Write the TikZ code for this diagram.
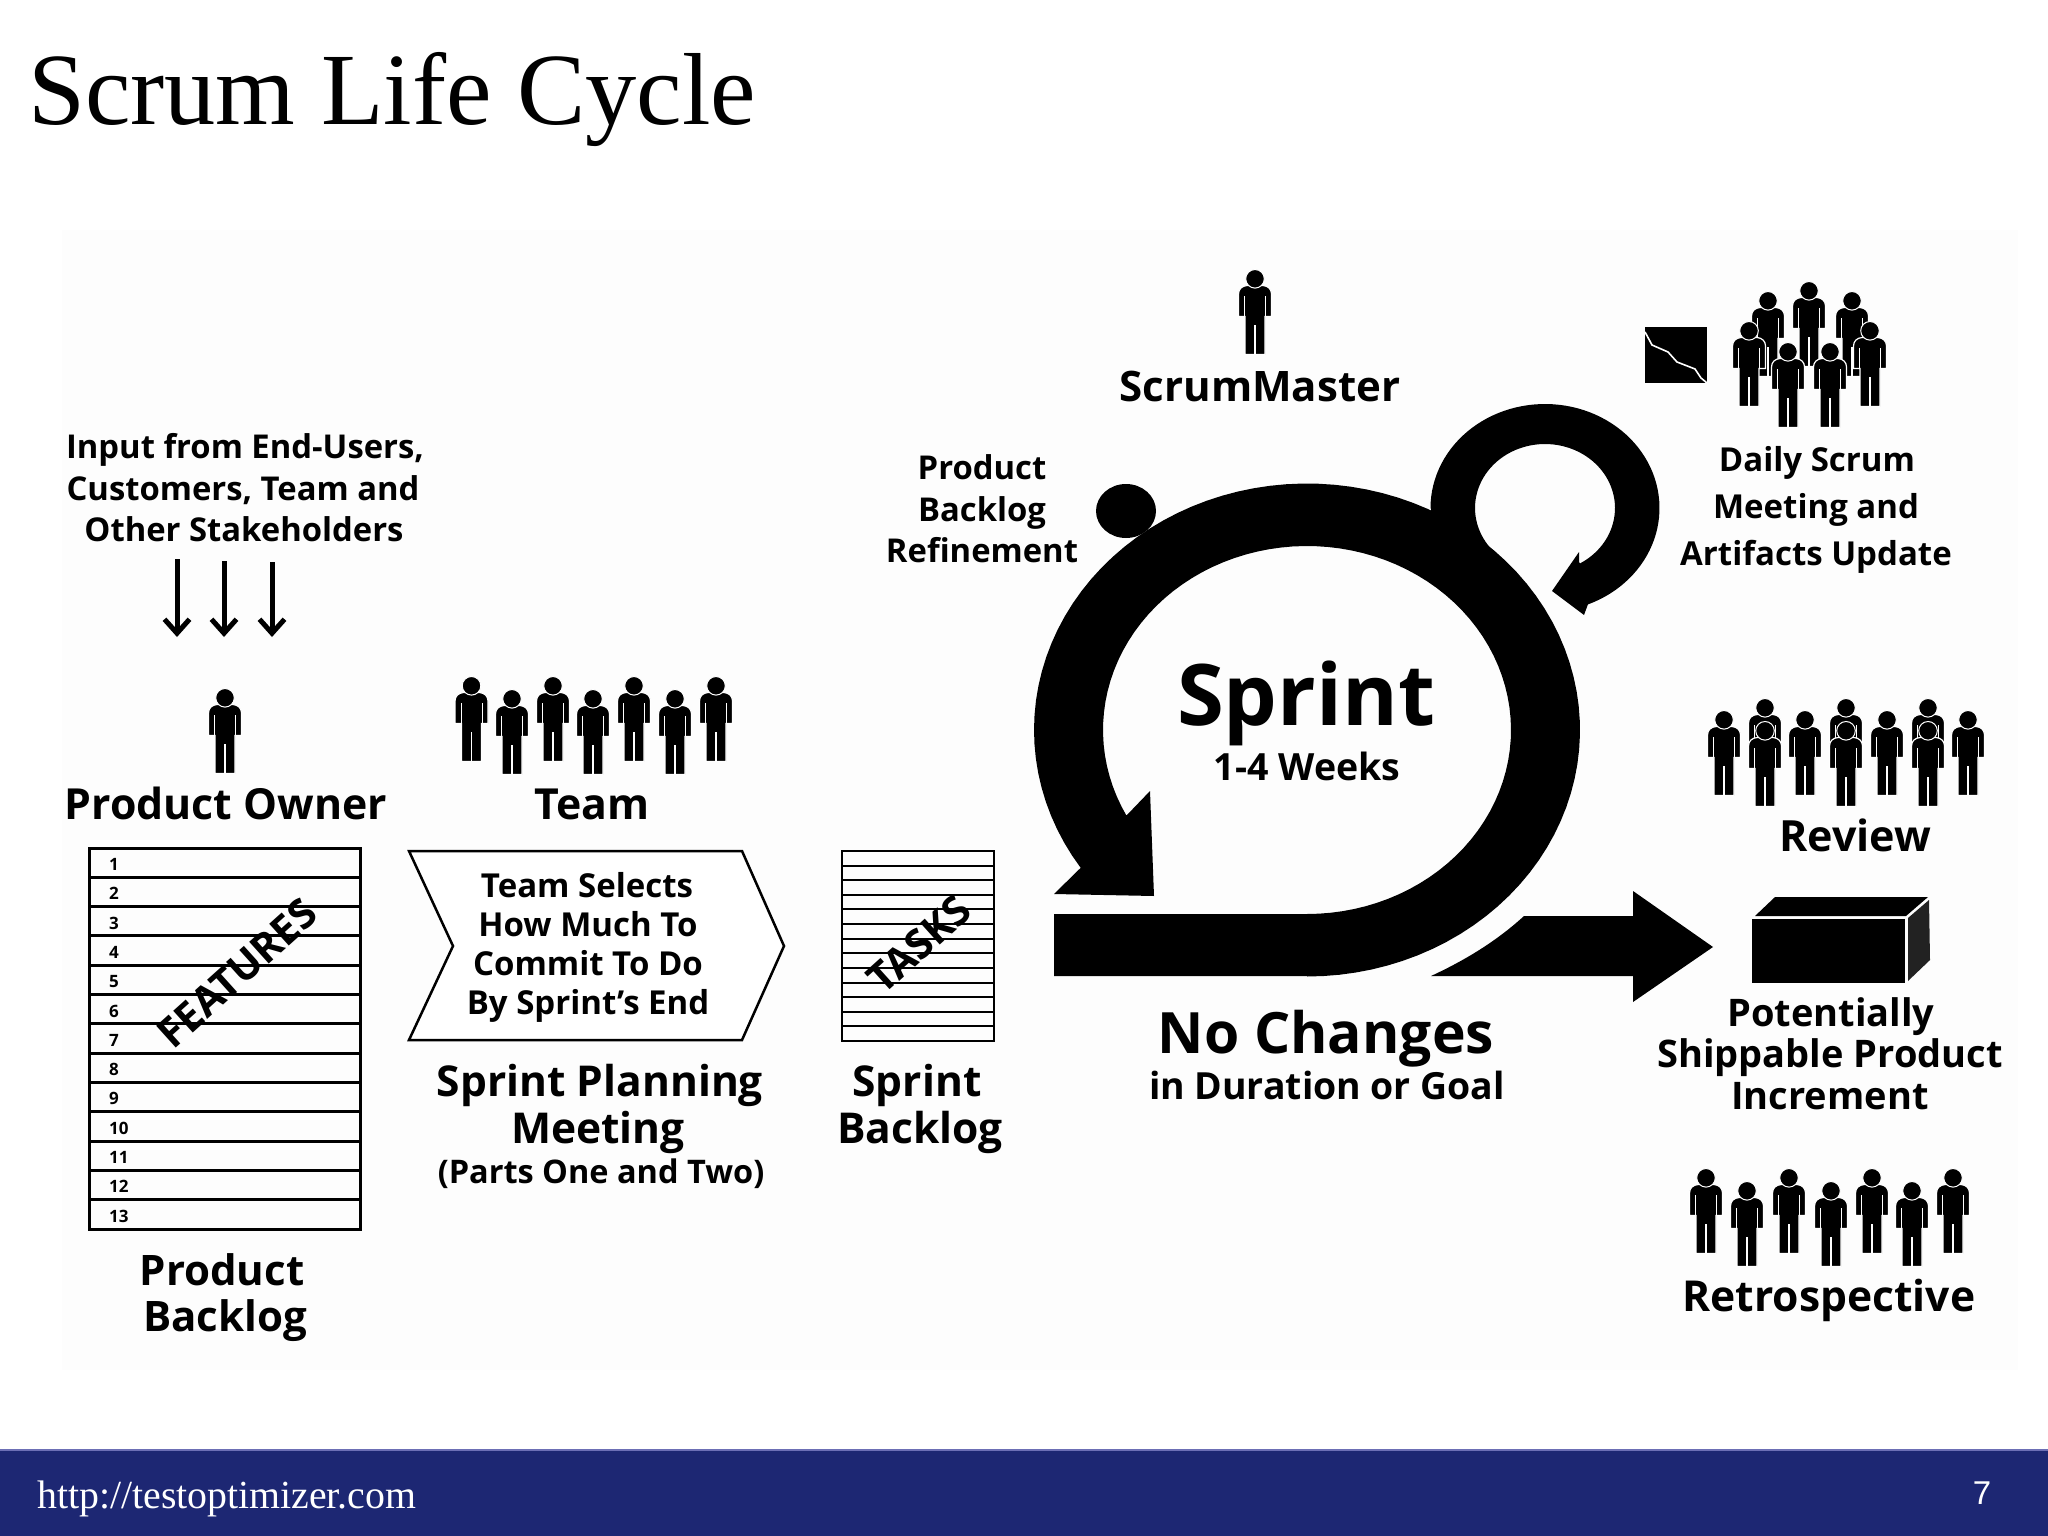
\documentclass[tikz,border=0pt]{standalone}
\usepackage{fontspec}
\usetikzlibrary{arrows.meta}
\setmainfont{Open Sans}
\newfontfamily\titlefont{Liberation Serif}
\newfontfamily\numfont{Liberation Sans}
\definecolor{band}{HTML}{1D2773}
\definecolor{bandedge}{HTML}{6C6FB5}
\definecolor{sideface}{HTML}{222222}
\newcommand{\fpx}[1]{\fontsize{#1pt}{#1pt}\selectfont}
\tikzset{
  lbl/.style={anchor=base,inner sep=0pt,outer sep=0pt,font=\bfseries,text=black},
  ink/.style={fill=black},
  rowline/.style={draw=black,line width=3pt},
  thinrow/.style={draw=black,line width=2pt},
  inarrow/.style={draw=black,line width=5pt,-{Straight Barb[length=14pt,width=25pt,line width=5pt]}},
  person/.pic={
    \path[fill=black,draw=white,line width=1.2pt]
      (-16.5,46.5) -- (-16.5,24) .. controls (-16.5,19) and (-13,16) .. (-8,15.5) -- (8,15.5)
      .. controls (13,16) and (16.5,19) .. (16.5,24) -- (16.5,46.5) -- (10,46.5) -- (10,84.5) -- (-10,84.5) -- (-10,46.5) -- cycle;
    \draw[white,line width=1pt] (-10.5,26) -- (-10.5,46.5) (10.5,26) -- (10.5,46.5);
    \draw[white,line width=1.2pt] (0,55) -- (0,84.5);
    \path[fill=black,draw=white,line width=1pt] (0,8.8) circle[radius=9.3];
  }
}
\begin{document}
\begin{tikzpicture}[x=1pt,y=-1pt]
\path[use as bounding box,fill=white] (0,0) rectangle (2048,1536);
\fill[black!0.6] (62,230) rectangle (2018,1370);
% footer
\fill[band] (0,1450) rectangle (2048,1536);
\fill[bandedge] (0,1449) rectangle (2048,1451);
\node[anchor=base west,inner sep=0pt,text=white,font=\titlefont\fpx{39.8}] (url) at (37,1508) {http://testoptimizer.com};
\node[anchor=base,inner sep=0pt,text=white,font=\numfont\fpx{33}] (pageno) at (1982,1504) {7};
% title
\node[anchor=base west,inner sep=0pt,font=\titlefont\fpx{102.4}] (title) at (28,125) {Scrum Life Cycle};

% --- input
\node[lbl,font=\bfseries\fpx{32.8}] (in1) at (245,458) {Input from End-Users,};
\node[lbl,font=\bfseries\fpx{32.8}] (in2) at (243,500) {Customers, Team and};
\node[lbl,font=\bfseries\fpx{32.8}] (in3) at (244,541) {Other Stakeholders};
\coordinate (a1s) at (177,559); \coordinate (a1e) at (177,637);
\coordinate (a2s) at (224,561); \coordinate (a2e) at (224,637);
\coordinate (a3s) at (272,562); \coordinate (a3e) at (272,637);
\draw[inarrow] (a1s) -- (a1e);
\draw[inarrow] (a2s) -- (a2e);
\draw[inarrow] (a3s) -- (a3e);

% --- product owner
\pic at (225,689) {person};
\node[lbl,font=\bfseries\fpx{42.8}] (po) at (226,819) {Product Owner};
% --- team
\foreach \x/\y in {471.5/677,512/690,553/677,593/690,634/677,675/690,716/677} \pic at (\x,\y) {person};
\node[lbl,font=\bfseries\fpx{42.8}] (team) at (592,819) {Team};

% --- product backlog
\draw[black,line width=3pt] (89,848) rectangle (360,1229);
\foreach \n in {1,...,12} \draw[rowline] (89,{848+\n*29.31}) -- (360,{848+\n*29.31});
\foreach \n in {1,...,13} \node[anchor=base west,inner sep=0pt,font=\bfseries\fpx{17}] at (109,{870.5+(\n-1)*29.31}) {\n};
\node[lbl,font=\bfseries\fpx{41},rotate=42] (feat) at (247,984) {FEATURES};
\node[lbl,font=\bfseries\fpx{42}] (pb1) at (222,1285) {Product};
\node[lbl,font=\bfseries\fpx{42}] (pb2) at (225,1331) {Backlog};

% --- chevron
\draw[black,line width=2.5pt,fill=white,line join=miter] (409,851) -- (742,851) -- (784,946) -- (742,1040) -- (409,1040) -- (453,946) -- cycle;
\node[lbl,font=\bfseries\fpx{33}] (c1) at (587,897) {Team Selects};
\node[lbl,font=\bfseries\fpx{33}] (c2) at (588,936) {How Much To};
\node[lbl,font=\bfseries\fpx{33}] (c3) at (588,975) {Commit To Do};
\node[lbl,font=\bfseries\fpx{33}] (c4) at (588,1014) {By Sprint’s End};
\node[lbl,font=\bfseries\fpx{42.5}] (sp1) at (600,1096) {Sprint Planning};
\node[lbl,font=\bfseries\fpx{42.5}] (sp2) at (598,1143) {Meeting};
\node[lbl,font=\bfseries\fpx{32.5}] (sp3) at (601,1183) {(Parts One and Two)};

% --- sprint backlog
\draw[black,line width=2pt] (842,851) rectangle (994,1041);
\foreach \n in {1,...,12} \draw[thinrow] (842,{851+\n*14.62}) -- (994,{851+\n*14.62});
\node[lbl,font=\bfseries\fpx{41},rotate=42] (tasks) at (929,955) {TASKS};
\node[lbl,font=\bfseries\fpx{42.5}] (sb1) at (917,1096) {Sprint};
\node[lbl,font=\bfseries\fpx{42.5}] (sb2) at (920,1143) {Backlog};

% --- scrummaster
\pic at (1255,270) {person};
\node[lbl,font=\bfseries\fpx{42}] (sm) at (1260,401) {ScrumMaster};

% --- refinement
\node[lbl,font=\bfseries\fpx{32.8}] (r1) at (982,479) {Product};
\node[lbl,font=\bfseries\fpx{32.8}] (r2) at (982,521) {Backlog};
\node[lbl,font=\bfseries\fpx{32.8}] (r3) at (982,562) {Refinement};

% --- sprint ring
\fill[ink] (1054,976) -- (1307,976)
  -- plot[domain=90:-214,samples=90] ({1307+273*cos(\x)},{730+246.5*sin(\x)})
  -- (1054,894) -- (1154,896) -- (1150,791) -- (1126,816)
  -- plot[domain=-208:90,samples=90] ({1307+204*cos(\x)},{730+184*sin(\x)})
  -- (1054,914) -- cycle;
% daily loop
\fill[ink] (1431,560) -- (1431,509)
  -- plot[domain=180:428,samples=80] ({1545+114.5*cos(\x)},{508+104*sin(\x)})
  -- (1584,615) -- (1552,591) -- (1579,552) -- (1579,562)
  -- plot[domain=60:-223,samples=80] ({1545+70*cos(\x)},{508+64*sin(\x)})
  -- (1480,600) -- cycle;
% blob
\fill[ink] (1126,511) ellipse[x radius=30,y radius=27];

\node[lbl,font=\bfseries\fpx{85}] (sprint) at (1306,725) {Sprint};
\node[lbl,font=\bfseries\fpx{37.5}] (weeks) at (1307,780) {1-4 Weeks};
\node[lbl,font=\bfseries\fpx{57}] (nochg) at (1326,1053) {No Changes};
\node[lbl,font=\bfseries\fpx{37.4}] (indur) at (1327,1099) {in Duration or Goal};

% --- big arrow
\fill[ink] (1431,976) .. controls (1470,958) and (1500,938) .. (1524,916) -- (1633,916) -- (1633,891) -- (1713,947) -- (1633,1002) -- (1633,976) -- cycle;

% --- box
\fill[ink] (1752,919) rectangle (1905,983);
\fill[ink] (1755,916) -- (1775,897) -- (1928,897) -- (1906,916) -- cycle;
\fill[sideface] (1908,918) -- (1929,900) -- (1930,960) -- (1908,981) -- cycle;
\node[lbl,font=\bfseries\fpx{38}] (ps1) at (1831,1026) {Potentially};
\node[lbl,font=\bfseries\fpx{38}] (ps2) at (1830,1067) {Shippable Product};
\node[lbl,font=\bfseries\fpx{38}] (ps3) at (1830,1109) {Increment};

% --- daily scrum
\fill[ink] (1645,327) rectangle (1707,383);
\draw[white,line width=1.6pt] (1645,332) -- (1652,345) -- (1668,352) -- (1677,362) -- (1695,369) -- (1701,378) -- (1707,383);
\pic at (1809,282) {person};
\pic at (1768,292) {person};
\pic at (1852,292) {person};
\pic at (1749,322) {person};
\pic at (1870,322) {person};
\pic at (1788,343) {person};
\pic at (1830,343) {person};
\node[lbl,font=\bfseries\fpx{33}] (d1) at (1817,471) {Daily Scrum};
\node[lbl,font=\bfseries\fpx{33}] (d2) at (1816,518) {Meeting and};
\node[lbl,font=\bfseries\fpx{33}] (d3) at (1816,565) {Artifacts Update};

% --- review
\foreach \x in {1765,1846,1928} \pic at (\x,699) {person};
\foreach \x in {1724,1805,1887,1968} \pic at (\x,711) {person};
\foreach \x in {1765,1846,1928} \pic at (\x,722) {person};
\node[lbl,font=\bfseries\fpx{43}] (rev) at (1855,851) {Review};

% --- retrospective
\foreach \x/\y in {1706/1169,1747/1182,1789/1169,1831/1182,1872/1169,1912/1182,1953/1169} \pic at (\x,\y) {person};
\node[lbl,font=\bfseries\fpx{42.6}] (retro) at (1829,1311) {Retrospective};
\end{tikzpicture}
\end{document}
